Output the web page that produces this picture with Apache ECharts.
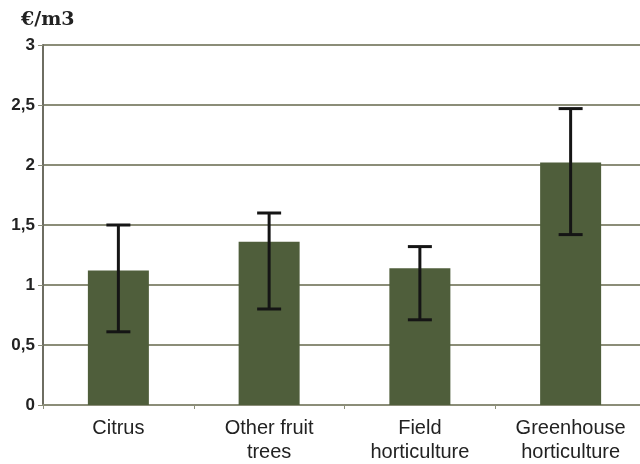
<!DOCTYPE html>
<html>
<head>
<meta charset="utf-8">
<script src="https://cdn.jsdelivr.net/npm/echarts@6/dist/echarts.min.js"></script>
<style>
  html, body { margin: 0; padding: 0; background: #fff; overflow: hidden; }
  /* 图表比窗口稍宽，右侧被裁掉，同原图 */
  #chart { width: 646px; height: 464px; }
</style>
</head>
<body>
<div id="chart"></div>
<script>
// 数据
var categories = ["Citrus", "Other fruit\ntrees", "Field\nhorticulture", "Greenhouse\nhorticulture"];
var means = [1.12, 1.36, 1.14, 2.02];
var lows = [0.61, 0.80, 0.71, 1.42];
var highs = [1.50, 1.60, 1.32, 2.47];

var gridColor = "#8b8d78";
var barColor = "#4f5e3b";

var myChart = echarts.init(document.getElementById("chart"));

var errData = categories.map(function (c, i) {
  return [i, lows[i], highs[i]];
});

var option = {
  animation: false,
  title: {
    text: "€/m3",
    left: 16,
    top: 6,
    textStyle: {
      fontFamily: "DejaVu Serif",
      fontWeight: "bold",
      fontSize: 19,
      color: "#222"
    }
  },
  grid: {
    left: 43,
    right: 0,
    top: 45,
    bottom: 59
  },
  xAxis: {
    type: "category",
    data: categories,
    axisLine: { lineStyle: { color: gridColor, width: 2 } },
    axisTick: { show: true, length: 4, lineStyle: { color: gridColor } },
    axisLabel: {
      fontFamily: "Liberation Sans",
      fontSize: 20,
      color: "#222",
      lineHeight: 24,
      margin: 11,
      interval: 0
    }
  },
  yAxis: {
    type: "value",
    min: 0,
    max: 3,
    interval: 0.5,
    axisLine: { show: true, lineStyle: { color: "#6e6e62", width: 2 } },
    axisTick: { show: true, length: 5, lineStyle: { color: gridColor } },
    splitLine: { lineStyle: { color: gridColor, width: 2 } },
    axisLabel: {
      fontFamily: "Liberation Sans",
      fontWeight: "bold",
      fontSize: 17,
      color: "#222",
      margin: 8,
      formatter: function (v) {
        return String(v).replace(".", ",");
      }
    }
  },
  series: [
    {
      type: "bar",
      data: means,
      barWidth: 61,
      itemStyle: { color: barColor }
    },
    {
      type: "custom",
      data: errData,
      z: 10,
      renderItem: function (params, api) {
        var x = api.value(0);
        var lo = api.coord([x, api.value(1)]);
        var hi = api.coord([x, api.value(2)]);
        var hw = 12;
        var style = { stroke: "#151515", lineWidth: 3, fill: null };
        return {
          type: "group",
          children: [
            { type: "line", shape: { x1: hi[0], y1: hi[1], x2: lo[0], y2: lo[1] }, style: style },
            { type: "line", shape: { x1: hi[0] - hw, y1: hi[1], x2: hi[0] + hw, y2: hi[1] }, style: style },
            { type: "line", shape: { x1: lo[0] - hw, y1: lo[1], x2: lo[0] + hw, y2: lo[1] }, style: style }
          ]
        };
      }
    }
  ]
};

myChart.setOption(option);
</script>
</body>
</html>
